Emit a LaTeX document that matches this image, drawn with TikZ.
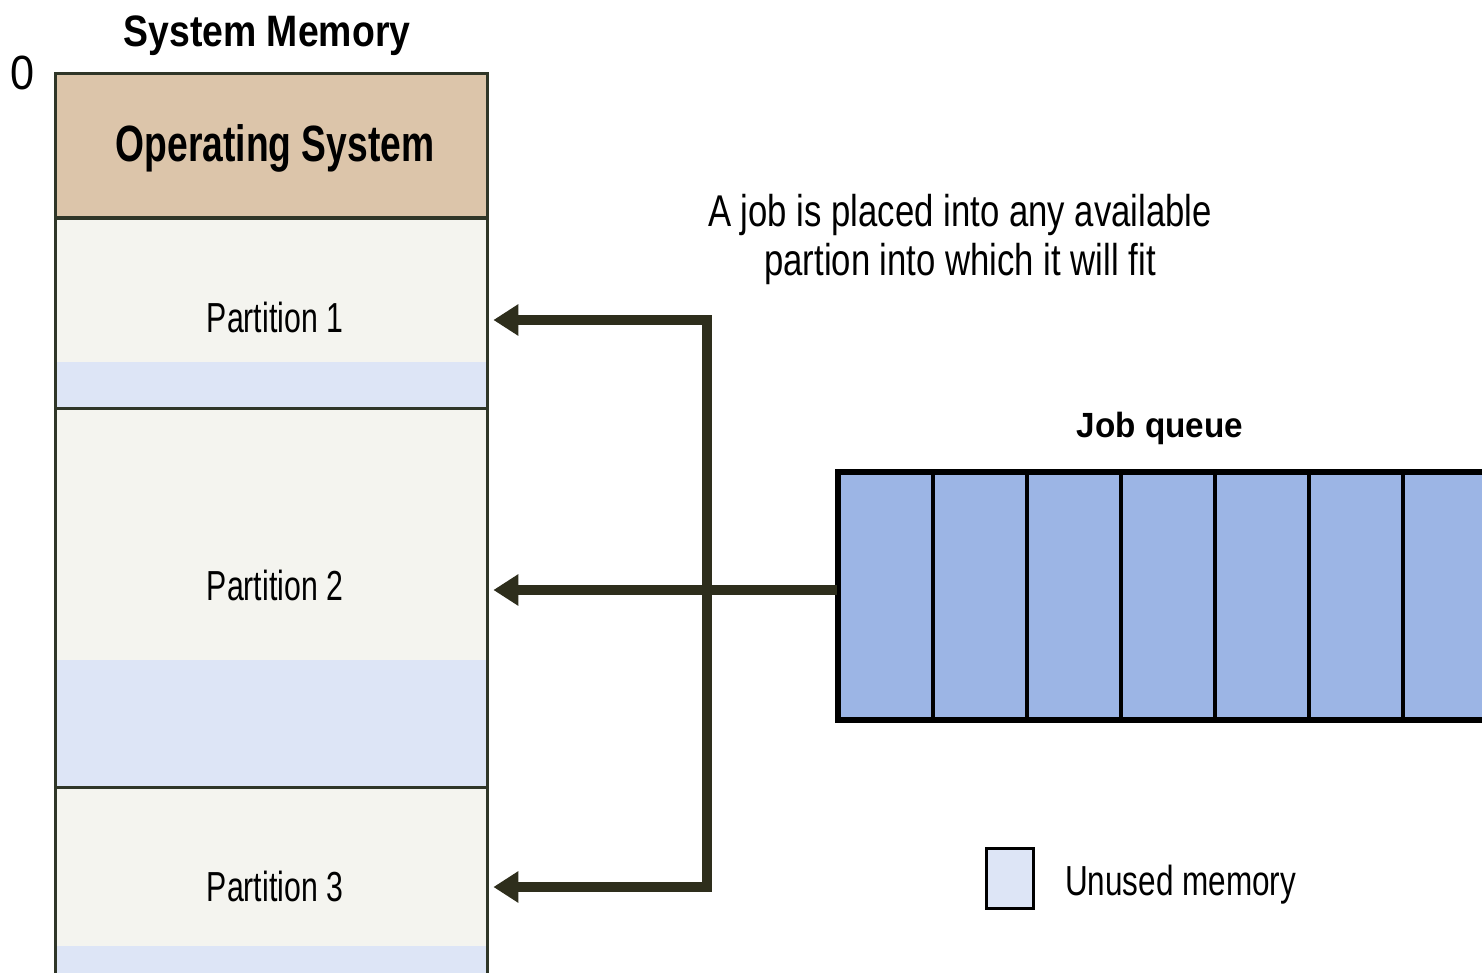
\documentclass[tikz,border=0pt]{standalone}
\usepackage{fontspec}
\setmainfont{Liberation Sans}
\usetikzlibrary{arrows.meta}

\definecolor{osfill}{HTML}{DCC5AA}
\definecolor{partfill}{HTML}{F4F4EF}
\definecolor{freefill}{HTML}{DDE5F6}
\definecolor{memedge}{HTML}{2F3628}
\definecolor{busline}{HTML}{2E2E1C}
\definecolor{jobfill}{HTML}{9CB5E5}

% condensed text and pixel-sized fonts
\newcommand\narrowtxt[2]{\scalebox{#1}[1]{#2}}
\newcommand\pxfont[1]{\fontsize{#1}{#1}\selectfont}

\tikzset{bustip/.tip={Triangle[length=25pt, width=30pt]}}

\begin{document}
\begin{tikzpicture}[x=1pt,y=-1pt,
  region/.style={rectangle, inner sep=0, minimum width=432, anchor=north west},
  memborder/.style={draw=memedge, line width=3},
  label/.style={inner sep=0, anchor=base, text=black},
  bus/.style={draw=busline, line width=10, line join=miter,
              shorten <=6, shorten >=6},
  jobcell/.style={rectangle, inner sep=0, minimum width=94, minimum height=246,
                  anchor=north west, fill=jobfill, draw=black, line width=3.5},
  keybox/.style={rectangle, inner sep=0, minimum width=47, minimum height=60,
                 fill=freefill, draw=black, line width=3}
]
\useasboundingbox (0,0) rectangle (1482,973);
\fill[white] (0,0) rectangle (1482,973);
\clip (0,0) rectangle (1482,973);

% memory column
\node[region, fill=osfill,   minimum height=144] (os) at (55,74)  {};
\node[region, fill=partfill, minimum height=190] (p1) at (55,218) {};
\node[region, fill=partfill, minimum height=379] (p2) at (55,408) {};
\node[region, fill=partfill, minimum height=220] (p3) at (55,787) {};

% unused memory at the bottom of each partition
\fill[freefill] (p1.south west) rectangle ++(432,-46);
\fill[freefill] (p2.south west) rectangle ++(432,-127);
\fill[freefill] (p3.south west) rectangle ++(432,-61);

\foreach \r in {os,p1,p2,p3}
  \draw[memborder] (\r.south west) rectangle (\r.north east);

% labels of the memory column
\node[label, font=\bfseries\pxfont{44}] (title) at (267,47) {\narrowtxt{0.85}{System Memory}};
\node[label, font=\pxfont{48}] (zero) at (23,90) {\narrowtxt{0.9}{0}};
\node[label, font=\bfseries\pxfont{51}] (oslabel) at (275,162) {\narrowtxt{0.73}{Operating System}};
\node[label, font=\pxfont{42}] (p1label) at (275,333) {\narrowtxt{0.72}{Partition 1}};
\node[label, font=\pxfont{42}] (p2label) at (275,600) {\narrowtxt{0.72}{Partition 2}};
\node[label, font=\pxfont{42}] (p3label) at (275,901) {\narrowtxt{0.72}{Partition 3}};

% job queue
\foreach \i in {0,...,6}
  \node[jobcell] (q\i) at (837+94*\i,471) {};
\draw[black, line width=4.5] (q0.north west) rectangle (q6.south east);
\node[label, font=\bfseries\pxfont{35}] (qlabel) at (1160,437) {\narrowtxt{0.95}{Job queue}};

% note
\node[label, font=\pxfont{44.5}] (note1) at (960,227) {\narrowtxt{0.78}{A job is placed into any available}};
\node[label, font=\pxfont{44.5}] (note2) at (960,276) {\narrowtxt{0.78}{partion into which it will fit}};

% dispatch bus from the queue to the partitions
\coordinate (bt) at (707,320);
\coordinate (bm) at (707,590);
\coordinate (bb) at (707,887);
\draw[bus, bustip-bustip] (bt -| p1.east) -- (bt) -- (bb) -- (bb -| p3.east);
\draw[bus, shorten <=0, -bustip] (bm -| q0.west) -- (bm -| p2.east);

% legend
\node[keybox] (key) at (1009.5,878) {};
\node[label, anchor=base west, font=\pxfont{42}] (keylabel) at (1065,895) {\narrowtxt{0.75}{Unused memory}};
\end{tikzpicture}
\end{document}
